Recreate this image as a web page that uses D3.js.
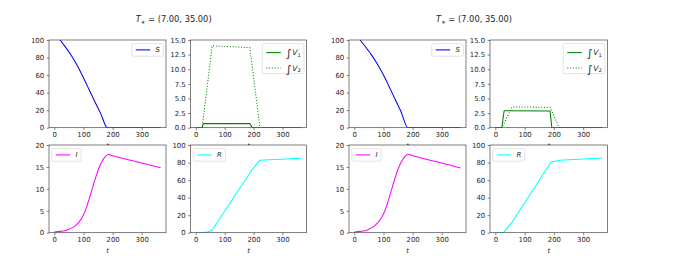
<!DOCTYPE html>
<html><head><meta charset="utf-8">
<script src="https://cdn.jsdelivr.net/npm/d3@7"></script>
<style>
body{margin:0;background:#fff;}
svg{display:block;font-family:"DejaVu Sans",sans-serif;}
</style></head><body>
<svg id="c" width="674" height="265"></svg>
<script>
// ---------------- data ----------------
const groupTitles = ["(7.00, 35.00)", "(7.00, 35.00)"];
const xTicks = [0, 100, 200, 300];
const tRange = [0, 365];
const sTicks = [0, 20, 40, 60, 80, 100];
const vTicks = [0, 2.5, 5, 7.5, 10, 12.5, 15];
const iTicks = [0, 5, 10, 15, 20];
const rTicks = [0, 20, 40, 60, 80, 100];

// left group
const sT_A = [0, 20, 40, 60, 80, 100, 120, 140, 160, 182, 250, 365];
const sV_A = [108.5, 100, 91, 81.5, 70, 57, 43, 29, 15.5, 0, 0, 0];
const v1T_A = [0, 22, 26, 187, 196, 365];
const v1V_A = [0, 0, 0.7, 0.7, 0, 0];
const v2T_A = [0, 22, 57, 187, 222, 365];
const v2V_A = [0, 0, 14.0, 13.7, 0, 0];
const iT_A = [0, 20, 36, 50, 71, 94, 105, 122, 139, 157, 174, 185, 197, 250, 300, 365];
const iV_A = [0.15, 0.3, 0.45, 0.8, 1.5, 3.3, 4.8, 8.2, 12.0, 15.4, 17.3, 17.85, 17.6, 16.7, 15.9, 14.8];
const rT_A = [0, 25, 40, 57, 194, 221, 365];
const rV_A = [0, 0.1, 0.8, 3.0, 71.5, 82.5, 85.0];

// right group
const sT_B = [0, 20, 40, 60, 80, 100, 120, 140, 160, 184, 250, 365];
const sV_B = [108.5, 100, 91.5, 82.5, 72, 60, 46.5, 32.5, 18.5, 0, 0, 0];
const v1T_B = [0, 22, 30, 187, 193, 365];
const v1V_B = [0, 0, 2.9, 2.85, 0, 0];
const v2T_B = [0, 22, 57, 187, 218, 365];
const v2V_B = [0, 0, 3.55, 3.5, 0, 0];
const iT_B = [0, 20, 36, 50, 71, 94, 105, 122, 139, 157, 174, 184, 196, 250, 300, 365];
const iV_B = [0.15, 0.3, 0.45, 0.8, 1.6, 3.5, 5.0, 8.5, 12.3, 15.6, 17.4, 17.9, 17.65, 16.7, 15.9, 14.75];
const rT_B = [0, 28, 56, 190, 220, 365];
const rV_B = [0, 0, 11.4, 80.3, 82.7, 85.2];

// ---------------- drawing ----------------
const svg = d3.select("#c");
svg.append("rect").attr("width", 674).attr("height", 265).attr("fill", "#fff");

const FS = 6.94;
const zip = (t, v) => t.map((d, i) => ({t: d, v: v[i]}));

function writeLabel(sel, key) {
  if (key === "V1" || key === "V2") {
    sel.append("tspan").attr("font-size", 11).attr("dy", 2).text("\u222B");
    sel.append("tspan").attr("font-style", "italic").attr("font-size", 7.6).attr("dx", 0.6).attr("dy", -2).text("V");
    sel.append("tspan").attr("font-size", 5.3).attr("dy", 1.7).text(key.slice(1));
  } else {
    sel.append("tspan").attr("font-style", "italic").text(key);
  }
}

let clipId = 0;
function panel(box, yMax, yTicks, yFmt, lines, legend, legendSide) {
  const {x0, x1, y0, y1} = box;
  const g = svg.append("g");
  const x = d3.scaleLinear().domain([tRange[0] - 18.25, tRange[1] + 18.25]).range([x0, x1]);
  const y = d3.scaleLinear().domain([0, yMax]).range([y1, y0]);

  g.append("rect").attr("x", x0).attr("y", y0).attr("width", x1 - x0).attr("height", y1 - y0).attr("fill", "#fff");

  const id = "clip" + (clipId++);
  g.append("clipPath").attr("id", id).append("rect")
    .attr("x", x0).attr("y", y0).attr("width", x1 - x0).attr("height", y1 - y0);

  const lg = g.append("g").attr("clip-path", `url(#${id})`);
  lines.forEach(L => {
    lg.append("path").datum(zip(L.t, L.v))
      .attr("fill", "none").attr("stroke", L.color).attr("stroke-width", 1.05)
      .attr("stroke-dasharray", L.dash || null)
      .attr("stroke-linejoin", "round")
      .attr("d", d3.line().x(d => x(d.t)).y(d => y(d.v)).curve(L.smooth ? d3.curveMonotoneX : d3.curveLinear));
  });

  const xa = g.append("g").attr("transform", `translate(0,${y1})`)
    .call(d3.axisBottom(x).tickValues(xTicks).tickSize(2.4).tickPadding(2.4).tickFormat(d3.format("d")));
  const ya = g.append("g").attr("transform", `translate(${x0},0)`)
    .call(d3.axisLeft(y).tickValues(yTicks).tickSize(2.4).tickPadding(2.4).tickFormat(yFmt));
  [xa, ya].forEach(a => {
    a.select(".domain").remove();
    a.selectAll("line").attr("stroke", "#333").attr("stroke-width", 0.6);
    a.selectAll("text").attr("font-size", FS).attr("fill", "#262626").attr("font-family", "DejaVu Sans");
  });

  g.append("rect").attr("x", x0).attr("y", y0).attr("width", x1 - x0).attr("height", y1 - y0)
    .attr("fill", "none").attr("stroke", "#3a3a3a").attr("stroke-width", 0.65);

  // x label
  g.append("text").attr("x", (x0 + x1) / 2).attr("y", y1 + 19.8).attr("text-anchor", "middle")
    .attr("font-size", FS).attr("font-style", "italic").attr("fill", "#262626").text("t");

  // legend
  const rowH = legend.length > 1 ? 15.4 : 0;
  const lgG = g.append("g");
  let maxW = 0;
  const texts = legend.map((L, i) => {
    const t = lgG.append("text").attr("font-size", FS).attr("fill", "#262626");
    writeLabel(t, L.key);
    maxW = Math.max(maxW, t.node().getComputedTextLength());
    return t;
  });
  const bw = 4 + 14.5 + 5.2 + maxW + 3.6;
  const bh = legend.length > 1 ? 30 : 12.6;
  const bx = legendSide === "right" ? x1 - 2.6 - bw : x0 + 2.7;
  const by = y0 + 3.6;
  lgG.insert("rect", ":first-child").attr("x", bx).attr("y", by).attr("width", bw).attr("height", bh)
    .attr("rx", 1.8).attr("fill", "#fff").attr("fill-opacity", 0.8)
    .attr("stroke", "#d0d0d0").attr("stroke-width", 0.6);
  legend.forEach((L, i) => {
    const cy = by + (legend.length > 1 ? 9 : 6.3) + i * rowH;
    lgG.append("line").attr("x1", bx + 4).attr("x2", bx + 18.5).attr("y1", cy).attr("y2", cy)
      .attr("stroke", L.color).attr("stroke-width", 1.05).attr("stroke-dasharray", L.dash || null);
    texts[i].attr("x", bx + 23.7).attr("y", cy + 2.5);
  });
}

function title(cx, label) {
  const t = svg.append("text").attr("x", cx).attr("y", 22).attr("text-anchor", "middle")
    .attr("font-size", 8.3).attr("fill", "#262626");
  t.append("tspan").attr("font-style", "italic").text("T");
  t.append("tspan").attr("font-size", 5.5).attr("dy", 1.6).text("\u2217");
  t.append("tspan").attr("dy", -1.6).text(" = " + label);
}

const groups = [
  {title: groupTitles[0], cx: 173.7, xa: [49, 166], xb: [190.5, 306.5],
   S: [sT_A, sV_A], V1: [v1T_A, v1V_A], V2: [v2T_A, v2V_A], I: [iT_A, iV_A], R: [rT_A, rV_A]},
  {title: groupTitles[1], cx: 474, xa: [349, 466], xb: [490, 607.5],
   S: [sT_B, sV_B], V1: [v1T_B, v1V_B], V2: [v2T_B, v2V_B], I: [iT_B, iV_B], R: [rT_B, rV_B]}
];
const rowTop = [40, 127.7], rowBot = [145, 232.7];
const fInt = d3.format("d"), fOne = d3.format(".1f");
const green = "#008000", dots = "1.05,1.75";

groups.forEach(G => {
  title(G.cx, G.title);
  panel({x0: G.xa[0], x1: G.xa[1], y0: rowTop[0], y1: rowTop[1]}, 100, sTicks, fInt,
    [{t: G.S[0], v: G.S[1], color: "#0000ff", smooth: true}],
    [{key: "S", color: "#0000ff"}], "right");
  panel({x0: G.xb[0], x1: G.xb[1], y0: rowTop[0], y1: rowTop[1]}, 15, vTicks, fOne,
    [{t: G.V1[0], v: G.V1[1], color: green}, {t: G.V2[0], v: G.V2[1], color: green, dash: dots}],
    [{key: "V1", color: green}, {key: "V2", color: green, dash: dots}], "right");
});
groups.forEach(G => {
  panel({x0: G.xa[0], x1: G.xa[1], y0: rowBot[0], y1: rowBot[1]}, 20, iTicks, fInt,
    [{t: G.I[0], v: G.I[1], color: "#ff00ff", smooth: true}],
    [{key: "I", color: "#ff00ff"}], "left");
  panel({x0: G.xb[0], x1: G.xb[1], y0: rowBot[0], y1: rowBot[1]}, 100, rTicks, fInt,
    [{t: G.R[0], v: G.R[1], color: "#00ffff"}],
    [{key: "R", color: "#00ffff"}], "left");
});
</script></body></html>
